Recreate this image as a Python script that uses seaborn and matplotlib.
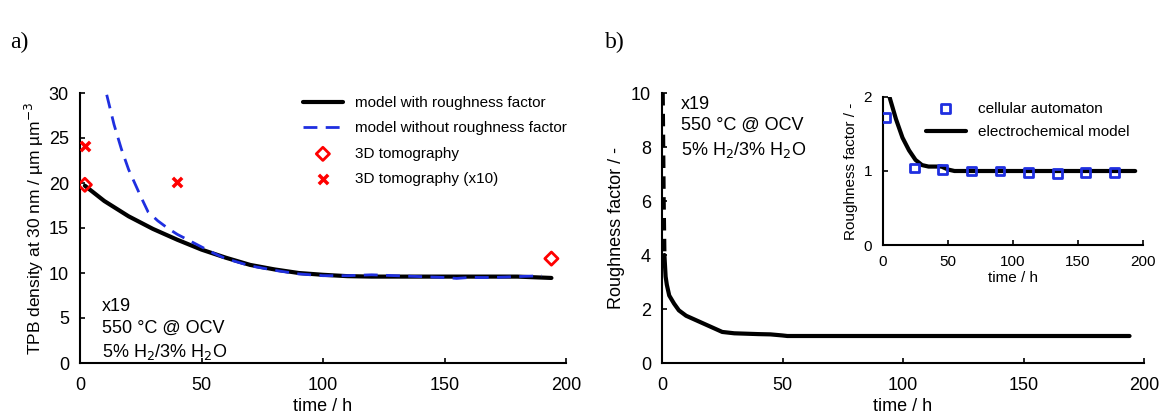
import pandas as pd
import seaborn as sns
import matplotlib.pyplot as plt

# panel a: TPB density
t_rough = [2, 10, 20, 30, 40, 50, 60, 70, 80, 90, 100, 110, 120, 135, 150, 165, 180, 194]
tpb_rough = [19.7, 18.0, 16.3, 14.9, 13.7, 12.6, 11.7, 10.9, 10.4, 10.0, 9.8, 9.65, 9.6, 9.6, 9.6, 9.6, 9.6, 9.45]

t_norough = [11, 14, 17, 20, 25, 28, 32, 36, 40, 45, 50, 55, 60, 70, 80, 90, 100, 110,
             120, 130, 140, 150, 155, 160, 170, 180, 190]
tpb_norough = [29.8, 26.5, 23.8, 21.5, 18.5, 16.8, 15.8, 15.0, 14.3, 13.6, 12.9, 12.2, 11.6,
               10.8, 10.3, 9.9, 9.7, 9.7, 9.8, 9.7, 9.6, 9.5, 9.4, 9.5, 9.5, 9.6, 9.7]

t_tomo = [2, 194]
tpb_tomo = [19.8, 11.6]
t_tomo10 = [2, 40]
tpb_tomo10 = [24.1, 20.1]

# panel b: roughness factor
t_rf_steep = [0.3, 0.5, 0.7, 1.0]
rf_steep = [10.0, 8.0, 6.0, 4.0]
t_rf = [1.0, 1.5, 2, 3, 5, 7, 10, 15, 20, 25, 30, 40, 45, 50, 52, 100, 150, 194]
rf = [4.0, 3.2, 2.9, 2.5, 2.2, 1.95, 1.75, 1.55, 1.35, 1.15, 1.1, 1.07, 1.06, 1.02, 1.0, 1.0, 1.0, 1.0]

# inset
t_in = [5, 10, 15, 20, 25, 30, 35, 45, 50, 55, 100, 150, 194]
rf_in = [2.0, 1.7, 1.45, 1.28, 1.15, 1.08, 1.06, 1.06, 1.02, 1.0, 1.0, 1.0, 1.0]
t_ca = [2, 24, 46, 68, 90, 112, 134, 156, 178]
rf_ca = [1.72, 1.04, 1.02, 1.0, 1.0, 0.98, 0.97, 0.98, 0.98]

sns.set_style("ticks")
plt.rcParams['font.family'] = ['Liberation Sans', 'DejaVu Sans']
plt.rcParams['axes.linewidth'] = 1.5
plt.rcParams['xtick.direction'] = 'in'
plt.rcParams['ytick.direction'] = 'in'
plt.rcParams['xtick.major.width'] = 1.2
plt.rcParams['ytick.major.width'] = 1.2
for k in ['text.color', 'axes.labelcolor', 'xtick.color', 'ytick.color', 'axes.edgecolor']:
    plt.rcParams[k] = 'black'

fig = plt.figure(figsize=(11.64, 4.2), dpi=100)
ax1 = fig.add_axes([80/1164, 1-363/420, 486/1164, 270/420])
ax2 = fig.add_axes([662/1164, 1-363/420, 482/1164, 270/420])
ax3 = fig.add_axes([883/1164, 1-245/420, 260/1164, 148/420])

# ---- a)
sns.lineplot(x=t_rough, y=tpb_rough, ax=ax1, color='black', lw=3, label='model with roughness factor')
sns.lineplot(x=t_norough, y=tpb_norough, ax=ax1, color='#1f2fe0', lw=2, ls=(0, (5, 3)),
             label='model without roughness factor')
sns.scatterplot(x=t_tomo, y=tpb_tomo, ax=ax1, marker='D', s=45, facecolor='none',
                edgecolor='red', linewidth=2, label='3D tomography', zorder=5)
sns.scatterplot(x=t_tomo10, y=tpb_tomo10, ax=ax1, marker='x', s=45, color='red',
                linewidth=2.5, label='3D tomography (x10)', zorder=5)
ax1.set_xlim(0, 200)
ax1.set_ylim(0, 30)
ax1.set_xticks([0, 50, 100, 150, 200])
ax1.set_yticks(range(0, 31, 5))
ax1.set_xlabel('time / h', fontsize=13, labelpad=3)
ax1.set_ylabel('TPB density at 30 nm / µm µm$^{-3}$', fontsize=12.5, labelpad=2)
ax1.tick_params(labelsize=13)
ax1.tick_params(axis='x', pad=10)
ax1.tick_params(axis='y', pad=8)
ax1.legend(loc='upper right', bbox_to_anchor=(1.03, 1.04), frameon=False, fontsize=11,
           handlelength=2.6, labelspacing=0.75)
ax1.text(0.045, 0.24, 'x19\n550 °C @ OCV\n5% H$_2$/3% H$_2$O', transform=ax1.transAxes,
         fontsize=13, va='top', linespacing=1.35)
sns.despine(ax=ax1)
fig.text(10/1164, 1-42/420, 'a)', fontsize=17, family='Liberation Serif', va='center')

# ---- b)
sns.lineplot(x=t_rf_steep, y=rf_steep, ax=ax2, color='black', lw=3, ls=(0, (3, 2)))
sns.lineplot(x=t_rf, y=rf, ax=ax2, color='black', lw=3)
ax2.set_xlim(0, 200)
ax2.set_ylim(0, 10)
ax2.set_xticks([0, 50, 100, 150, 200])
ax2.set_yticks(range(0, 11, 2))
ax2.set_xlabel('time / h', fontsize=13, labelpad=3)
ax2.set_ylabel('Roughness factor / -', fontsize=13, labelpad=4)
ax2.tick_params(labelsize=13)
ax2.tick_params(axis='x', pad=10)
ax2.tick_params(axis='y', pad=8)
ax2.text(0.04, 0.99, 'x19\n550 °C @ OCV\n5% H$_2$/3% H$_2$O', transform=ax2.transAxes,
         fontsize=13, va='top', linespacing=1.35)
sns.despine(ax=ax2)
fig.text(605/1164, 1-42/420, 'b)', fontsize=17, family='Liberation Serif', va='center')

# ---- inset
sns.scatterplot(x=t_ca, y=rf_ca, ax=ax3, marker='s', s=40, facecolor='none',
                edgecolor='#1f2fe0', linewidth=2, label='cellular automaton', zorder=5)
sns.lineplot(x=t_in, y=rf_in, ax=ax3, color='black', lw=3, label='electrochemical model')
ax3.set_xlim(0, 200)
ax3.set_ylim(0, 2)
ax3.set_xticks([0, 50, 100, 150, 200])
ax3.set_yticks([0, 1, 2])
ax3.set_xlabel('time / h', fontsize=11, labelpad=2)
ax3.set_ylabel('Roughness factor / -', fontsize=11, labelpad=4)
ax3.tick_params(labelsize=11)
ax3.tick_params(axis='x', pad=7)
ax3.tick_params(axis='y', pad=8)
ax3.legend(loc='upper right', bbox_to_anchor=(1.0, 1.06), frameon=False, fontsize=11,
           handlelength=2.6, labelspacing=0.6)
sns.despine(ax=ax3)

fig.savefig('out.png', dpi=100)
